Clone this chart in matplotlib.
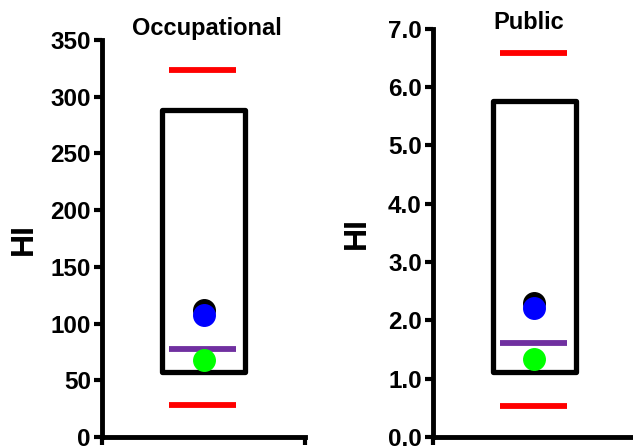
import matplotlib
matplotlib.use("Agg")
import matplotlib.pyplot as plt
import numpy as np

plt.rcParams["font.family"] = ["Liberation Sans", "DejaVu Sans"]
plt.rcParams["font.weight"] = "bold"

# Panel data: box range, red limits, purple mean, dots
titles = ["Occupational", "Public"]
box_low = [57, 1.12]
box_high = [288, 5.76]
red_high = [324, 6.58]
red_low = [28, 0.54]
purple_val = [78, 1.62]
green_val = [68, 1.34]
blue_val = [108, 2.21]
black_val = [112, 2.30]
y_max = [350, 7.0]
y_step = [50, 1.0]
tick_fmt = ["{:.0f}", "{:.1f}"]

fig = plt.figure(figsize=(6.33, 4.47), dpi=100)
axes = [
    fig.add_axes([0.161, 0.0224, 0.321, 0.888]),
    fig.add_axes([0.684, 0.0224, 0.320, 0.913]),
]
title_x = [0.517, 0.471]
title_y = [1.013, 1.0]
label_pad = [8, 12]

for i, ax in enumerate(axes):
    # box
    ax.bar(0.5, box_high[i] - box_low[i], bottom=box_low[i], width=0.41,
           fill=False, edgecolor="black", linewidth=3.8, joinstyle="round",
           zorder=2)
    # red limits
    ax.hlines([red_high[i], red_low[i]], 0.33, 0.66, color="#ff0000",
              linewidth=4.2, zorder=3)
    # purple line
    ax.hlines(purple_val[i], 0.33, 0.66, color="#7030a0", linewidth=4.2,
              zorder=3)
    # dots
    ax.plot(0.5, black_val[i], "o", color="black", markersize=15.5, zorder=4)
    ax.plot(0.5, blue_val[i], "o", color="#0000ff", markersize=15.5, zorder=5)
    ax.plot(0.5, green_val[i], "o", color="#00ff00", markersize=15.5, zorder=5)

    ax.set_xlim(0, 1)
    ax.set_ylim(0, y_max[i])
    yt = np.arange(0, y_max[i] + y_step[i] / 2, y_step[i])
    ax.set_yticks(yt)
    ax.set_yticklabels([tick_fmt[i].format(v) for v in yt], fontsize=17.5,
                       fontweight="bold")
    ax.set_xticks([0, 1])
    ax.set_xticklabels([])
    ax.tick_params(axis="both", width=3, length=6, direction="out", pad=2)
    for s in ["top", "right"]:
        ax.spines[s].set_visible(False)
    for s in ["left", "bottom"]:
        ax.spines[s].set_linewidth(3.5)
        ax.spines[s].set_clip_on(False)
    ax.set_ylabel("HI", fontsize=23, fontweight="bold", labelpad=label_pad[i])
    ax.text(title_x[i], title_y[i], titles[i], transform=ax.transAxes,
            ha="center", va="baseline", fontsize=17, fontweight="bold")

plt.savefig("out.png", dpi=100)
